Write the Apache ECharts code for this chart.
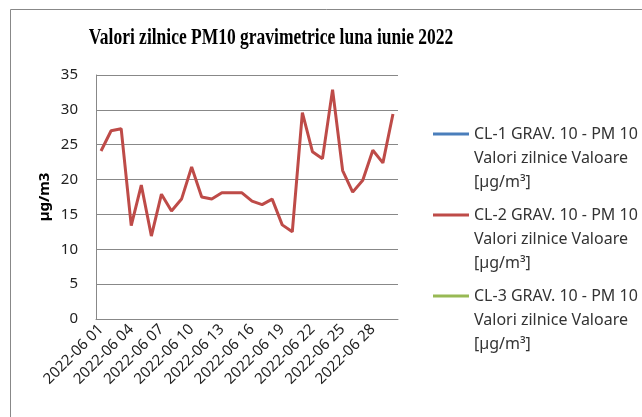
<!DOCTYPE html>
<html>
<head>
<meta charset="utf-8">
<script src="https://cdn.jsdelivr.net/npm/echarts@6/dist/echarts.min.js"></script>
<style>
  html, body { margin: 0; padding: 0; background: #fff; }
  #main { width: 642px; height: 417px; }
</style>
</head>
<body>
<div id="main"></div>
<script>
// zilele lunii iunie 2022
var days = [];
for (var d = 1; d <= 30; d++) {
    days.push('2022-06 ' + (d < 10 ? '0' + d : d));
}

// CL-2 valori
var cl2Values = [24.1, 27.0, 27.3, 13.4, 19.2, 11.9, 17.9, 15.5, 17.2, 21.8,
                 17.5, 17.2, 18.1, 18.1, 18.1, 16.9, 16.4, 17.2, 13.5, 12.5,
                 29.6, 24.0, 23.0, 32.9, 21.3, 18.2, 19.9, 24.2, 22.4, 29.4];
// CL-1 si CL-3 nu au valori pe grafic
var cl1Values = [];
var cl3Values = [];

var seriesNames = [
    'CL-1 GRAV. 10 - PM 10\nValori zilnice Valoare\n[µg/m³]',
    'CL-2 GRAV. 10 - PM 10\nValori zilnice Valoare\n[µg/m³]',
    'CL-3 GRAV. 10 - PM 10\nValori zilnice Valoare\n[µg/m³]'
];

var chart = echarts.init(document.getElementById('main'));

var option = {
    animation: false,
    color: ['#4a7ebb', '#be4b48', '#98b954'],
    graphic: [
        {
            type: 'rect',
            shape: { x: 10.5, y: 9.5, width: 700, height: 500 },
            style: { fill: 'none', stroke: '#888', lineWidth: 1 }
        },
        {
            // titlul - font ingust si inalt ca in original
            type: 'text',
            x: 271,
            y: 38,
            scaleX: 0.76,
            style: {
                text: 'Valori zilnice PM10 gravimetrice luna iunie 2022',
                font: 'bold 23px "Liberation Serif"',
                fill: '#000',
                align: 'center',
                verticalAlign: 'middle'
            }
        }
    ],
    legend: {
        orient: 'vertical',
        left: 433,
        top: 74,
        padding: 0,
        itemWidth: 36,
        itemHeight: 3,
        itemGap: -39,
        icon: 'rect',
        data: seriesNames,
        // doua randuri goale ca linia sa fie in dreptul primului rand
        formatter: function (name) {
            return '\n\n' + name;
        },
        textStyle: {
            fontFamily: 'Noto Sans',
            fontSize: 16,
            color: '#333',
            lineHeight: 24
        }
    },
    grid: {
        left: 96,
        right: 244,
        top: 75,
        bottom: 98
    },
    xAxis: {
        type: 'category',
        data: days,
        boundaryGap: true,
        axisLine: { lineStyle: { color: '#888' } },
        axisTick: { show: false },
        axisLabel: {
            interval: 2,
            rotate: 45,
            fontFamily: 'Noto Sans',
            fontSize: 15,
            color: '#222',
            margin: 8
        }
    },
    yAxis: {
        type: 'value',
        min: 0,
        max: 35,
        interval: 5,
        name: 'µg/m3',
        nameLocation: 'middle',
        nameGap: 44,
        nameTextStyle: {
            fontFamily: 'Noto Sans',
            fontWeight: 'bold',
            fontSize: 15,
            color: '#000'
        },
        axisLine: { show: true, lineStyle: { color: '#888' } },
        axisTick: { show: false },
        splitLine: { lineStyle: { color: '#888' } },
        axisLabel: {
            fontFamily: 'Noto Sans',
            fontSize: 15,
            color: '#222',
            margin: 18
        }
    },
    series: [
        {
            name: seriesNames[0],
            type: 'line',
            data: cl1Values,
            symbol: 'none',
            lineStyle: { width: 3 }
        },
        {
            name: seriesNames[1],
            type: 'line',
            data: cl2Values,
            symbol: 'none',
            lineStyle: { width: 3 }
        },
        {
            name: seriesNames[2],
            type: 'line',
            data: cl3Values,
            symbol: 'none',
            lineStyle: { width: 3 }
        }
    ]
};

chart.setOption(option);
</script>
</body>
</html>
